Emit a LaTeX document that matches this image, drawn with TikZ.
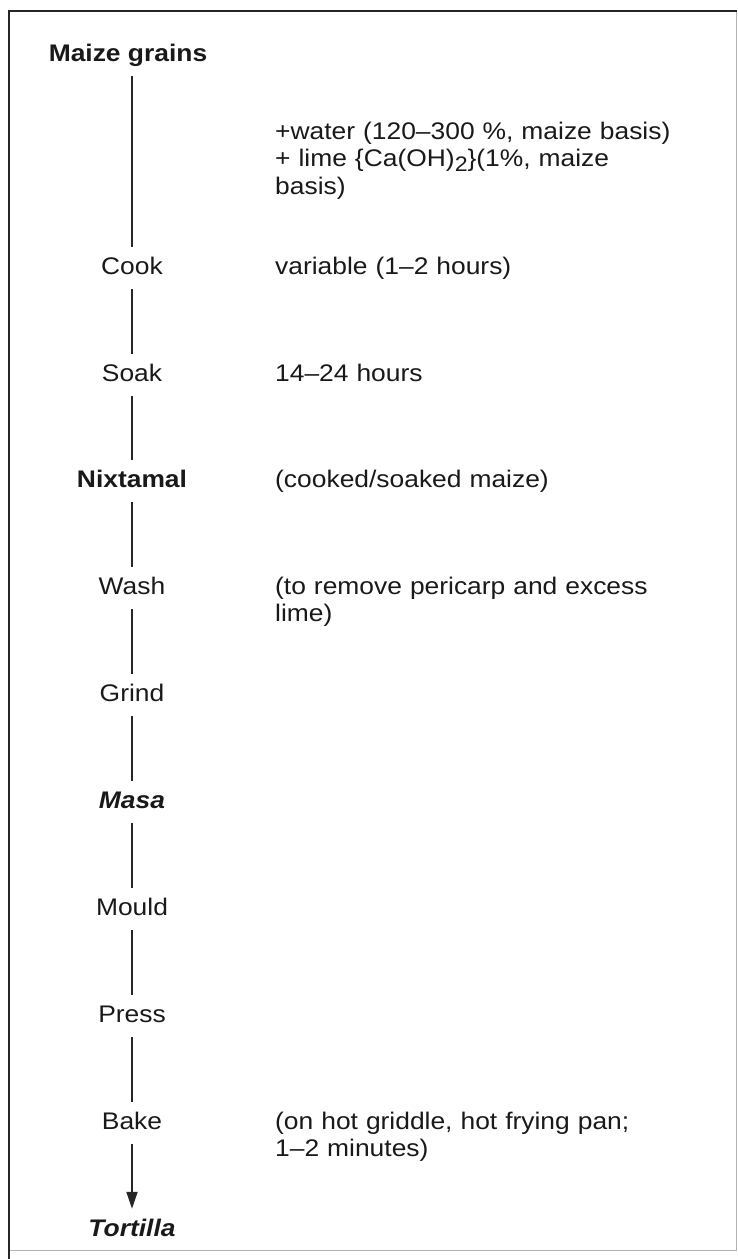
\documentclass[tikz,border=0pt]{standalone}
\usepackage{fontspec}
\setmainfont{Liberation Sans}[FakeStretch=1.1]
\usetikzlibrary{arrows.meta}
\begin{document}
\begin{tikzpicture}[x=1pt,y=-1pt,
  every node/.style={font=\fontsize{24}{27.5}\selectfont, text=black!90},
  stepnode/.style={anchor=base,text height=17pt,text depth=5pt,inner xsep=0pt,inner ysep=10pt},
  keynode/.style={stepnode,font=\fontsize{24}{27.5}\selectfont\bfseries},
  prodnode/.style={stepnode,font=\fontsize{24}{27.5}\selectfont\bfseries\itshape},
  note/.style={anchor=base west,align=left,text width=440pt,inner sep=0pt},
  flow/.style={line width=1.8pt,black!85},
  frameedge/.style={line width=2.6pt,black!85},
  frameedgelight/.style={line width=1pt,black!30}]

\useasboundingbox (0,0) rectangle (737,1259);

% frame
\draw[frameedgelight] (736,11) -- (736,1250) -- (9,1250);
\draw[frameedge] (9,1259) -- (9,11) -- (737,11);

% process steps
\node[keynode]  (mg)    at (128,61)   {Maize grains};
\node[stepnode] (cook)  at (132,274)  {Cook};
\node[stepnode] (soak)  at (132,381)  {Soak};
\node[keynode]  (nix)   at (132,487)  {Nixtamal};
\node[stepnode] (wash)  at (132,594)  {Wash};
\node[stepnode] (grind) at (132,701)  {Grind};
\node[prodnode] (masa)  at (132,808)  {Masa};
\node[stepnode] (mould) at (132,915)  {Mould};
\node[stepnode] (press) at (132,1022) {Press};
\node[stepnode] (bake)  at (132,1129) {Bake};
\node[prodnode] (tort)  at (132,1236) {Tortilla};

% notes
\node[note] (n0) at (275,139) {+water (120--300 \%, maize basis)\\
  + lime \{Ca(OH)\raisebox{-5pt}{\fontsize{21}{21}\selectfont 2}\}(1\%, maize\\basis)};
\node[note] (n1) at (275,274) {variable (1--2 hours)};
\node[note] (n2) at (275,381) {14--24 hours};
\node[note] (n3) at (275,487) {(cooked/soaked maize)};
\node[note] (n4) at (275,594) {(to remove pericarp and excess\\lime)};
\node[note] (n5) at (275,1129) {(on hot griddle, hot frying pan;\\1--2 minutes)};

% connectors
\draw[flow] (mg.south -| cook.north) -- (cook.north);
\draw[flow] (cook) -- (soak);
\draw[flow] (soak) -- (nix);
\draw[flow] (nix) -- (wash);
\draw[flow] (wash) -- (grind);
\draw[flow] (grind) -- (masa);
\draw[flow] (masa) -- (mould);
\draw[flow] (mould) -- (press);
\draw[flow] (press) -- (bake);
\draw[flow,-{Triangle[width=11pt,length=17pt]}] (bake) -- (tort);
\end{tikzpicture}
\end{document}
